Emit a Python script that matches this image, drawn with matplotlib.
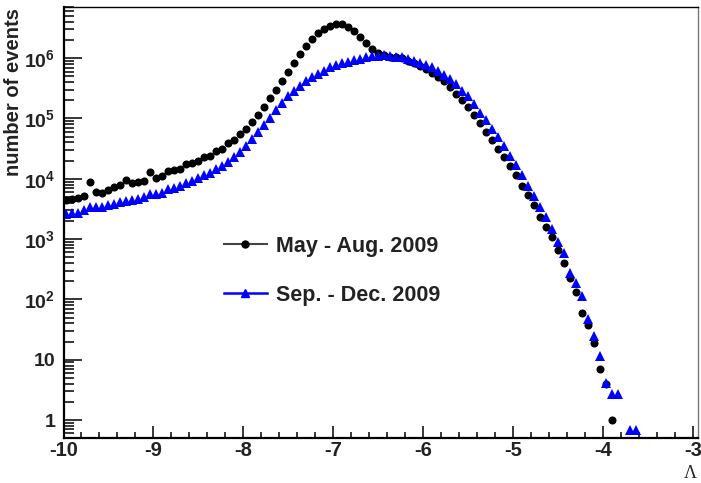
import numpy as np
import matplotlib.pyplot as plt
from matplotlib.lines import Line2D
from matplotlib.ticker import FixedLocator, LogLocator, MultipleLocator, NullFormatter

# bins of width 1/15 from -10 to -3 (bin centers)
n_bins = 96
lam = -10 + (np.arange(n_bins) + 0.5) / 15.0

# May - Aug. 2009 (black circles)
may_aug = [
    4450, 4620, 4800, 5190, 8850, 6040, 5900, 6520, 7310, 7890,
    9550, 8510, 8850, 9190, 12970, 10310, 11130, 13460, 13990, 14540,
    17590, 18270, 19730, 23000, 23900, 28900, 31200, 39300, 44000, 55300,
    67000, 87500, 114000, 155000, 215000, 297000, 419000, 590000, 832000, 1175000,
    1594000, 2080000, 2617000, 3050000, 3420000, 3690000, 3650000, 3290000, 2826000, 2248000,
    1787000, 1422000, 1220000, 1130000, 1047000, 1040000, 1007000, 899000, 832000, 743000,
    662000, 569000, 488000, 419000, 333000, 255000, 203000, 155000, 114000, 84100,
    60800, 44000, 31200, 22550, 16000, 11340, 7740, 5390, 3680, 2330,
    1590, 1063, 659, 402, 226, 133, 59, 38, 19, 7,
    4, 1, np.nan, np.nan, np.nan, np.nan,
]

# Sep. - Dec. 2009 (blue triangles)
sep_dec = [
    2560, 2660, 2760, 2980, 3400, 3400, 3450, 3610, 3820, 4050,
    4290, 4450, 4620, 4990, 5490, 5600, 5820, 6900, 7030, 7600,
    8510, 9190, 10310, 11340, 12710, 14540, 16000, 19000, 23000, 27800,
    35000, 45700, 59700, 78000, 102000, 138000, 181000, 232000, 286000, 340000,
    411000, 479000, 547000, 614000, 702000, 771000, 832000, 881000, 951000, 988000,
    1027000, 1067000, 1087000, 1108000, 1087000, 1047000, 1027000, 970000, 899000, 832000,
    771000, 702000, 603000, 527000, 452000, 373000, 291000, 232000, 171000, 123000,
    92700, 68200, 49300, 35000, 24300, 16900, 11560, 7740, 5090, 3470,
    2330, 1443, 895, 588, 279, 187, 114, 48, 25, 11.5,
    4.1, 2.75, 2.75, np.nan, 0.68, 0.68,
]

y_ticks = [1, 10, 1e2, 1e3, 1e4, 1e5, 1e6]
y_tick_labels = ['1', '10', '$10^{2}$', '$10^{3}$', '$10^{4}$', '$10^{5}$', '$10^{6}$']
x_ticks = [-10, -9, -8, -7, -6, -5, -4, -3]

plt.rcParams['font.family'] = ['Liberation Sans', 'DejaVu Sans']
plt.rcParams['mathtext.fontset'] = 'custom'
plt.rcParams['mathtext.rm'] = 'Liberation Sans:bold'
plt.rcParams['mathtext.it'] = 'Liberation Sans:bold'
plt.rcParams['mathtext.bf'] = 'Liberation Sans:bold'

W, H = 701, 483
fig = plt.figure(figsize=(W / 100, H / 100), dpi=100)
ax = fig.add_axes([63.5 / W, (H - 438) / H, (698 - 63.5) / W, (438 - 7) / H])

ax.plot(lam, may_aug, 'o', color='black', markersize=5.8, markeredgewidth=0)
ax.plot(lam, sep_dec, '^', color='#0000ff', markersize=7, markeredgewidth=0)

ax.set_yscale('log')
ax.set_xlim(-10, -2.945)
ax.set_ylim(0.503, 7.06e6)

# axes styling (ROOT-like)
ax.xaxis.set_major_locator(FixedLocator(x_ticks))
ax.xaxis.set_minor_locator(MultipleLocator(0.2))
ax.set_xticklabels([str(v) for v in x_ticks])
ax.yaxis.set_major_locator(FixedLocator(y_ticks))
ax.yaxis.set_minor_locator(LogLocator(base=10, subs=np.arange(2, 10) * 1.0, numticks=20))
ax.yaxis.set_minor_formatter(NullFormatter())
ax.set_yticklabels(y_tick_labels)

ax.tick_params(axis='x', which='major', direction='in', length=9, width=1.1, pad=2,
               labelsize=14.5, top=False, labelcolor='#222222')
ax.tick_params(axis='x', which='minor', direction='in', length=4.5, width=1.1, top=False)
ax.tick_params(axis='y', which='major', direction='in', length=13, width=1.1, pad=6,
               labelsize=14, right=False, labelcolor='#222222')
ax.tick_params(axis='y', which='minor', direction='in', length=7, width=1.1, right=False)
for lbl in ax.get_xticklabels() + ax.get_yticklabels():
    lbl.set_fontweight('bold')

ax.spines['left'].set_linewidth(1.6)
ax.spines['bottom'].set_linewidth(1.6)
ax.spines['top'].set_linewidth(1.0)
ax.spines['right'].set_linewidth(1.0)
ax.spines['right'].set_color('#777777')

fig.text(14 / W, 1 - 8 / H, 'number of events', rotation=90, ha='center', va='top',
         fontsize=14.5, fontweight='bold', color='#222222')
fig.text(697 / W, 1 - 474 / H, '\u039b', ha='right', va='center',
         fontsize=13, family='Liberation Serif', color='#222222')

# legend
handles = [
    Line2D([], [], color='#444444', lw=1.5, marker='o', markersize=5, markerfacecolor='black',
           markeredgecolor='black'),
    Line2D([], [], color='#0000ff', lw=1.8, marker='^', markersize=5.5, markerfacecolor='#0000ff',
           markeredgecolor='#0000ff'),
]
fig.legend(handles, ['May - Aug. 2009', 'Sep. - Dec. 2009'], loc='upper left',
           bbox_to_anchor=(223.5 / W, 1 - 236 / H), frameon=False, borderpad=0, borderaxespad=0,
           handlelength=2.0, handletextpad=0.45, labelspacing=1.28,
           prop={'size': 15.5, 'weight': 'bold'}, labelcolor='#222222')

plt.savefig('out.png', dpi=100)
plt.close(fig)
